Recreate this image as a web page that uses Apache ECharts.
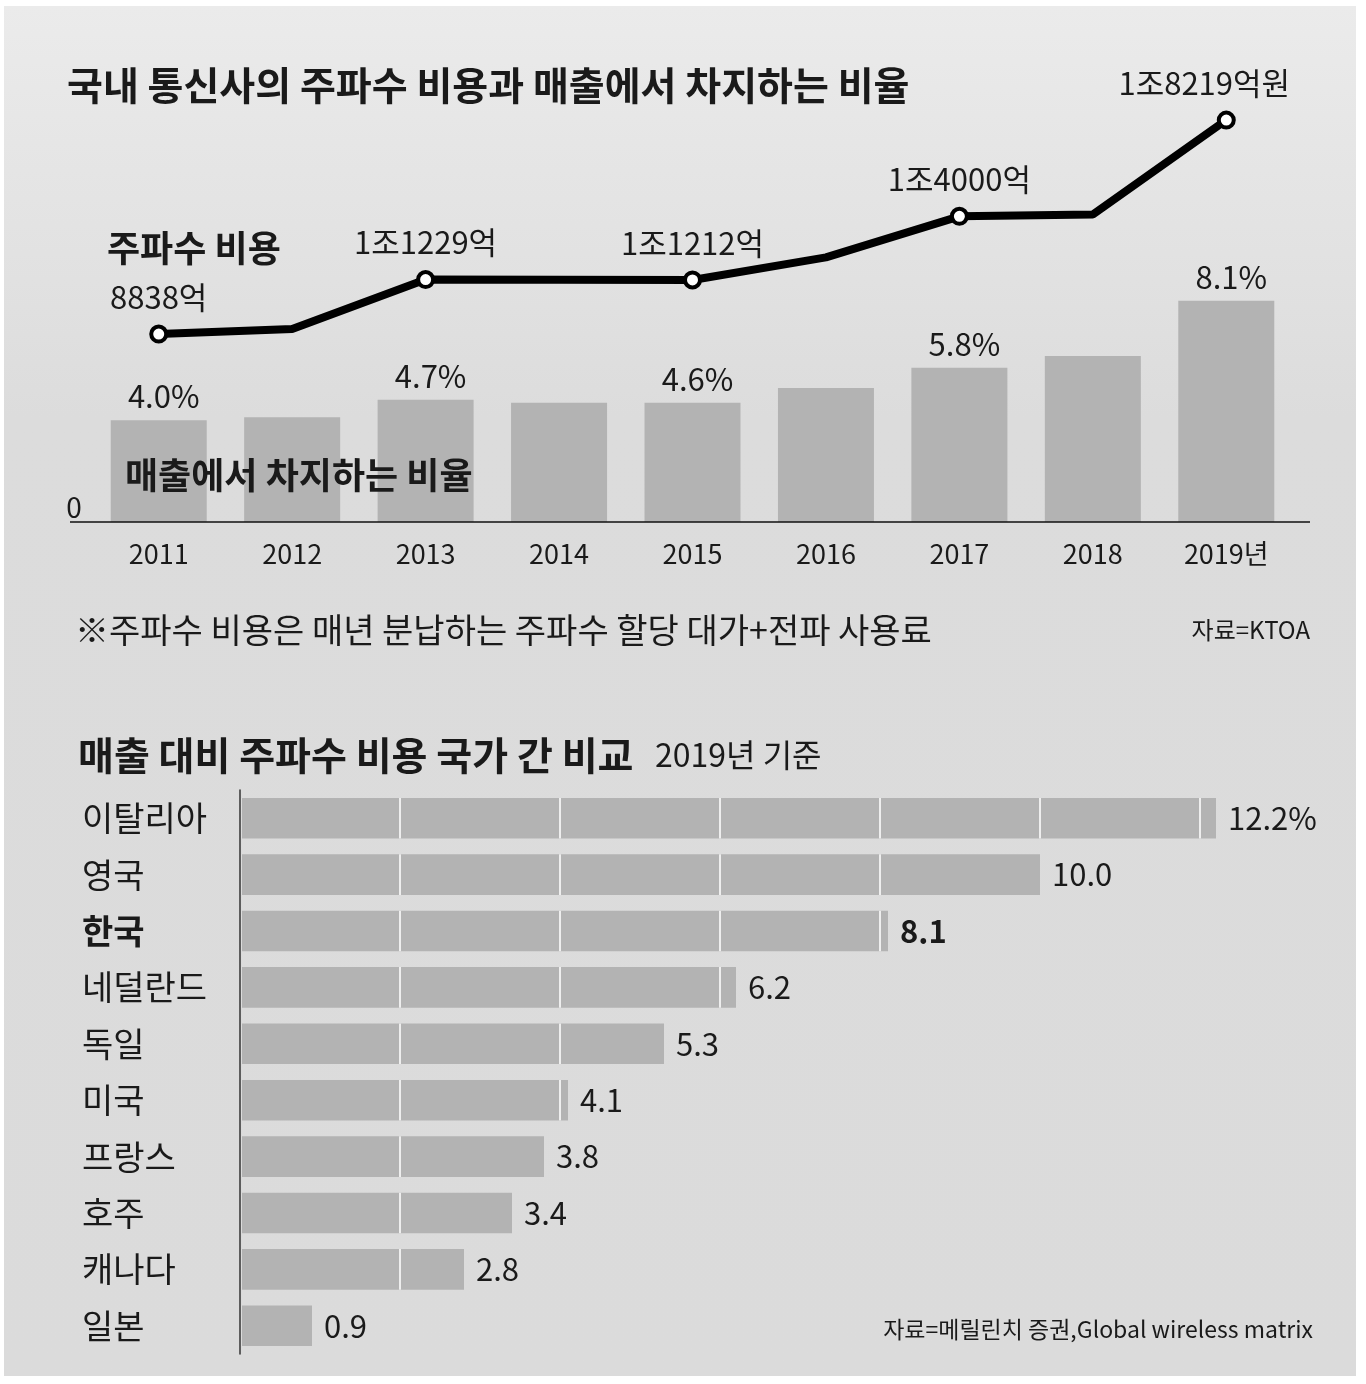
<!DOCTYPE html>
<html lang="ko" style="height: 100%">
<head>
  <meta charset="utf-8">
</head>
<body style="height: 100%; margin: 0; background: #ffffff">
  <div id="container" style="width: 1366px; height: 1384px"></div>

  <script type="text/javascript" src="https://fastly.jsdelivr.net/npm/echarts@6.0.0/dist/echarts.min.js"></script>
  <script type="text/javascript">
    // 위 차트: 연도별 주파수 비용(억원)과 매출 대비 비율(%)
    var years = ['2011', '2012', '2013', '2014', '2015', '2016', '2017', '2018', '2019년'];
    var spectrumCost = [8838, 9060, 11229, 11220, 11212, 12200, 14000, 14080, 18219];
    var revenueShare = [4.0, 4.1, 4.7, 4.6, 4.6, 5.1, 5.8, 6.2, 8.1];
    var labeledYears = ['2011', '2013', '2015', '2017', '2019년'];

    // 아래 차트: 2019년 국가별 매출 대비 주파수 비용(%)
    var countries = ['이탈리아', '영국', '한국', '네덜란드', '독일', '미국', '프랑스', '호주', '캐나다', '일본'];
    var countryShare = [12.2, 10.0, 8.1, 6.2, 5.3, 4.1, 3.8, 3.4, 2.8, 0.9];
    var highlightCountry = '한국';

    var FONT = "'Noto Sans CJK KR', sans-serif";
    var TEXT = '#1a1a1a';

    var dom = document.getElementById('container');
    var myChart = echarts.init(dom, null, { renderer: 'canvas' });

    function costLabel(v, last) {
      var s = v >= 10000 ? '1조' + (v - 10000) + '억' : v + '억';
      return last ? s + '원' : s;
    }

    function txt(x, y, text, size, opts) {
      opts = opts || {};
      return {
        type: 'text', x: x, y: y, z: 50,
        style: {
          text: text, fill: TEXT, fontFamily: FONT, fontSize: size,
          fontWeight: opts.bold ? 'bold' : 'normal',
          align: opts.align || 'left', verticalAlign: 'middle'
        }
      };
    }

    var option = {
      animation: false,
      textStyle: { fontFamily: FONT },
      graphic: [
        {
          type: 'rect', z: -10,
          shape: { x: 4, y: 6, width: 1352, height: 1370 },
          style: {
            fill: new echarts.graphic.LinearGradient(0, 0, 0, 1, [
              { offset: 0, color: '#ebebeb' },
              { offset: 0.3, color: '#dcdcdc' },
              { offset: 1, color: '#dbdbdb' }
            ])
          }
        },
        {
          type: 'line', z: 40,
          shape: { x1: 70, y1: 522, x2: 1310, y2: 522 },
          style: { stroke: '#111', lineWidth: 1.5 }
        },
        txt(67, 85, '국내 통신사의 주파수 비용과 매출에서 차지하는 비율', 39, { bold: true }),
        txt(107, 248, '주파수 비용', 36, { bold: true }),
        txt(125, 475, '매출에서 차지하는 비율', 36, { bold: true }),
        txt(74, 507, '0', 28, { align: 'center' }),
        txt(75, 630, '※주파수 비용은 매년 분납하는 주파수 할당 대가+전파 사용료', 34),
        txt(1310, 630, '자료=KTOA', 24, { align: 'right' }),
        txt(78, 755, '매출 대비 주파수 비용 국가 간 비교', 39, { bold: true }),
        txt(655, 755, '2019년 기준', 32),
        txt(1313, 1329, '자료=메릴린치 증권,Global wireless matrix', 23, { align: 'right' })
      ],
      grid: [
        { left: 92, right: 73, top: 100, bottom: 862 },
        { left: 240, right: 6, top: 790, bottom: 30 }
      ],
      xAxis: [
        {
          type: 'category', gridIndex: 0, data: years,
          axisLine: { show: false },
          axisTick: { show: true, inside: true, alignWithLabel: true, length: 12, lineStyle: { color: '#444', width: 1 } },
          axisLabel: { fontSize: 27, color: TEXT, margin: 18 }
        },
        { type: 'value', gridIndex: 1, min: 0, max: 14, show: false }
      ],
      yAxis: [
        { type: 'value', gridIndex: 0, min: 0.5, max: 15, show: false },
        { type: 'value', gridIndex: 0, min: 600, max: 19100, show: false },
        {
          type: 'category', gridIndex: 1, data: countries, inverse: true,
          axisLine: { show: true, lineStyle: { color: '#333', width: 1.5 } },
          axisTick: { show: false },
          axisLabel: {
            margin: 158, align: 'left', fontSize: 34, color: TEXT,
            formatter: function (name) {
              return name === highlightCountry ? '{b|' + name + '}' : name;
            },
            rich: { b: { fontSize: 34, fontWeight: 'bold', color: TEXT } }
          }
        }
      ],
      series: [
        {
          type: 'bar', xAxisIndex: 0, yAxisIndex: 0,
          data: revenueShare, barWidth: 96,
          itemStyle: { color: '#b3b3b3' },
          label: {
            show: true, position: 'top', distance: 8,
            fontSize: 31, color: TEXT, offset: [5, 0],
            formatter: function (p) {
              return labeledYears.indexOf(p.name) >= 0 ? p.value.toFixed(1) + '%' : '';
            }
          }
        },
        {
          type: 'line', xAxisIndex: 0, yAxisIndex: 1, z: 5,
          data: spectrumCost.map(function (v, i) {
            var show = labeledYears.indexOf(years[i]) >= 0;
            return {
              value: v,
              symbol: show ? 'circle' : 'none',
              label: { show: show, offset: i === years.length - 1 ? [-22, 0] : [0, 0] }
            };
          }),
          showAllSymbol: true, symbolSize: 15,
          lineStyle: { color: '#000', width: 8 },
          itemStyle: { color: '#fff', borderColor: '#000', borderWidth: 4 },
          label: {
            position: 'top', distance: 12, fontSize: 31, color: TEXT,
            formatter: function (p) {
              return costLabel(p.value, p.dataIndex === years.length - 1);
            }
          }
        },
        {
          type: 'custom', xAxisIndex: 1, yAxisIndex: 2,
          data: countryShare.map(function (v, i) { return [v, countries[i]]; }),
          encode: { x: 0, y: 1 },
          renderItem: function (params, api) {
            var v = api.value(0);
            var c = api.value(1);
            var start = api.coord([0, c]);
            var end = api.coord([v, c]);
            var h = api.size([0, 1])[1] * 0.72;
            var top = start[1] - h / 2;
            var children = [{
              type: 'rect',
              shape: { x: start[0] + 2, y: top, width: end[0] - start[0] - 2, height: h },
              style: { fill: '#b3b3b3' }
            }];
            for (var k = 2; k < v; k += 2) {
              var p = api.coord([k, c]);
              children.push({
                type: 'line',
                shape: { x1: p[0], y1: top, x2: p[0], y2: top + h },
                style: { stroke: '#eeeeee', lineWidth: 2 }
              });
            }
            var name = countries[params.dataIndex];
            children.push({
              type: 'text',
              x: end[0] + 12, y: end[1],
              style: {
                text: params.dataIndex === 0 ? v.toFixed(1) + '%' : v.toFixed(1),
                fill: TEXT, fontFamily: FONT, fontSize: 31,
                fontWeight: name === highlightCountry ? 'bold' : 'normal',
                verticalAlign: 'middle'
              }
            });
            return { type: 'group', children: children };
          }
        }
      ]
    };

    myChart.setOption(option);
    window.addEventListener('resize', myChart.resize);
  </script>
</body>
</html>
